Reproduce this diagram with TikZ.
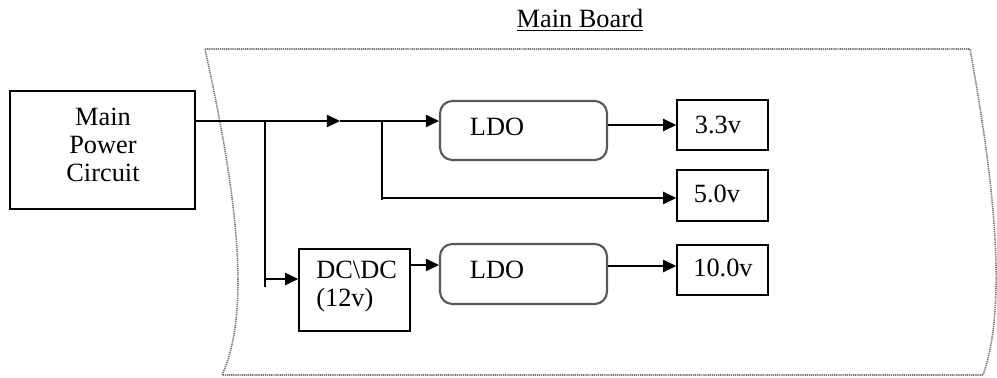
\documentclass[tikz,border=0pt]{standalone}
\usepackage{fontspec}
\setmainfont{Liberation Serif}
\usetikzlibrary{arrows.meta}
\begin{document}
\begin{tikzpicture}[x=0.02cm,y=-0.02cm,
  box/.style={draw, line width=0.85pt, inner sep=0pt},
  ldo/.style={draw=black!65, line width=1.2pt, rounded corners=7pt, inner sep=0pt},
  conn/.style={line width=0.85pt, -{Triangle[length=7.5pt,width=7pt]}},
  wire/.style={line width=0.85pt},
  board/.style={draw=black!55, line width=0.9pt, dash pattern=on 0.7pt off 0.5pt},
  lbl/.style={font=\fontsize{15}{16}\selectfont, inner sep=0pt}]
\useasboundingbox (0,0) rectangle (997,378);
% main board outline
\draw[board] (205,49) -- (970,49)
  .. controls (990,160) and (1010,300) .. (983,375) -- (222,375)
  .. controls (252,310) and (236,190) .. (205,49) -- cycle;
\node[lbl] (title) at (580,20) {\underline{Main Board}};
% boxes
\node[box, minimum width=3.7cm, minimum height=2.36cm] (mpc) at (102.5,150) {};
\node[lbl, align=center] (mpct) at (103,145) {Main\\[0pt]Power\\[0pt]Circuit};
\node[ldo, minimum width=3.34cm, minimum height=1.18cm] (ldoA) at (523.5,130.5) {};
\node[lbl] (ldoAt) at (497,127) {LDO};
\node[ldo, minimum width=3.34cm, minimum height=1.2cm] (ldoB) at (523.5,274) {};
\node[lbl] (ldoBt) at (497,270) {LDO};
\node[box, minimum width=2.22cm, minimum height=1.64cm] (dcdc) at (354.5,290) {};
\node[lbl, align=left, anchor=west] (dcdct) at (316,287) {DC\textbackslash DC\\[0pt](12v)};
\node[box, minimum width=1.82cm, minimum height=1.0cm] (vA) at (722.5,125) {};
\node[lbl] (vAt) at (718,125) {3.3v};
\node[box, minimum width=1.82cm, minimum height=1.02cm] (vB) at (722.5,195.5) {};
\node[lbl] (vBt) at (717,194) {5.0v};
\node[box, minimum width=1.82cm, minimum height=1.0cm] (vC) at (722.5,270) {};
\node[lbl] (vCt) at (723,268) {10.0v};
% junction coordinates
\coordinate (s) at (195,121);
\coordinate (mid) at (340,121);
\coordinate (jA) at (265,121);
\coordinate (jAd) at (265,279);
\coordinate (jAe) at (265,287);
\coordinate (jB) at (382,121);
\coordinate (jBd) at (382,198);
\coordinate (jBe) at (382,200);
\coordinate (yDC) at (0,265);
\coordinate (yC) at (0,266);
% connectors
\draw[conn] (s) -- (mid);
\draw[conn] (mid) -- (ldoA.west |- mid);
\draw[wire] (jA) -- (jAe);
\draw[conn] (jAd) -- (dcdc.west |- jAd);
\draw[wire] (jB) -- (jBe);
\draw[conn] (jBd) -- (vB.west |- jBd);
\draw[conn] (ldoA.east |- vA) -- (vA.west);
\draw[conn] (dcdc.east |- yDC) -- (ldoB.west |- yDC);
\draw[conn] (ldoB.east |- yC) -- (vC.west |- yC);
\end{tikzpicture}
\end{document}
